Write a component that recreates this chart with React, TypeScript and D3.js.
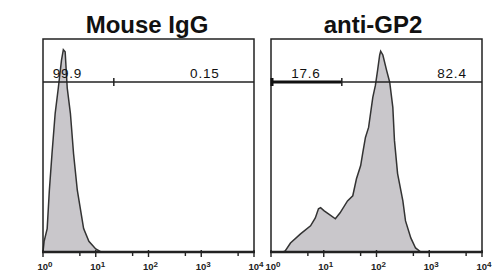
import React from "react";
import * as d3 from "d3";

const panelTitles = ["Mouse IgG", "anti-GP2"];

const mouseIgGIntensity = [1, 1.05, 1.2, 1.32, 1.48, 1.7, 1.95, 2.24, 2.43, 2.63, 2.88, 3.31, 3.8, 4.47, 5.89, 7.41, 10, 12.6];
const mouseIgGCount = [0, 5, 11, 29, 46, 65, 77, 90, 95, 94, 77, 65, 46, 29, 11, 5, 1.4, 0];

const antiGP2Intensity = [1.7, 1.86, 2.34, 3.63, 5.62, 6.92, 7.94, 8.71, 10.2, 12.3, 16.6, 20.4, 28.2, 35.5, 41.7, 50.1, 55, 61.7, 70.8, 85.1, 95.5, 105, 115, 120, 132, 155, 178, 204, 219, 251, 316, 355, 447, 550, 692];
const antiGP2Count = [0, 0.5, 4.2, 8.5, 12.3, 16, 20.3, 20.8, 19.3, 17.9, 15.6, 18.4, 24, 26.4, 34.4, 40.6, 46.7, 53.8, 58.5, 72.6, 78.3, 85.4, 92.5, 94.3, 92.5, 85.4, 79.7, 67.9, 52.4, 36.8, 24, 14.6, 6.6, 1.9, 0];

const gateBoundary = 22;
const mouseIgGGatePct = ["99.9", "0.15"];
const antiGP2GatePct = ["17.6", "82.4"];

const decadeTicks = [1, 10, 100, 1000, 10000];
const decadeExponents = ["0", "1", "2", "3", "4"];
const minorTicks = [5, 50, 500, 5000];

const panels = [
  { title: panelTitles[0], xs: mouseIgGIntensity, ys: mouseIgGCount, pct: mouseIgGGatePct, left: 43, titleX: 147, selected: -1, labelAt: [2.9, 1170] },
  { title: panelTitles[1], xs: antiGP2Intensity, ys: antiGP2Count, pct: antiGP2GatePct, left: 271, titleX: 373, selected: 0, labelAt: [4.6, 2700] },
];

const W = 211;
const TOP = 39;
const BASE = 252;
const GATE_Y = 82;
const FONT = "Liberation Sans, Arial, sans-serif";

function Panel({ p }: { p: any }) {
  const x = d3.scaleLog().domain([1, 10000]).range([p.left, p.left + W]);
  const y = d3.scaleLinear().domain([0, 100]).range([BASE, TOP]);
  const pts = p.xs.map((v: number, i: number) => [v, p.ys[i]] as [number, number]);
  const area = d3
    .area<[number, number]>()
    .x((d) => x(d[0]))
    .y0(BASE)
    .y1((d) => y(d[1]));
  const line = d3
    .line<[number, number]>()
    .x((d) => x(d[0]))
    .y((d) => y(d[1]));
  const gx = x(gateBoundary);
  const L = p.left;
  const R = p.left + W;
  const dark = "#222";
  return (
    <g>
      <text x={p.titleX} y={33} textAnchor="middle" fontFamily={FONT} fontWeight="bold" fontSize={24} fill="#111">
        {p.title}
      </text>
      <path d={area(pts) || ""} fill="#c9c7cb" />
      <path d={line(pts) || ""} fill="none" stroke="#333" strokeWidth={1.5} strokeLinejoin="miter" />
      {/* frame */}
      <path d={`M${L},${BASE} V${TOP} H${R} V${BASE}`} fill="none" stroke={dark} strokeWidth={1.5} />
      <line x1={L - 1} x2={R + 1} y1={BASE} y2={BASE} stroke={dark} strokeWidth={2.4} />
      {/* gate */}
      <line x1={L} x2={R} y1={GATE_Y} y2={GATE_Y} stroke={dark} strokeWidth={1.3} />
      {p.selected === 0 && (
        <g>
          <line x1={L} x2={gx} y1={GATE_Y} y2={GATE_Y} stroke="#111" strokeWidth={3} />
          <line x1={L + 1} x2={L + 1} y1={GATE_Y - 4} y2={GATE_Y + 4} stroke="#111" strokeWidth={3} />
        </g>
      )}
      <line x1={gx} x2={gx} y1={GATE_Y - 4} y2={GATE_Y + 4} stroke={dark} strokeWidth={1.5} />
      <text x={x(p.labelAt[0])} y={78} textAnchor="middle" fontFamily={FONT} fontSize={13.5} letterSpacing={0.8} fill="#111">
        {p.pct[0]}
      </text>
      <text x={x(p.labelAt[1])} y={78} textAnchor="middle" fontFamily={FONT} fontSize={13.5} letterSpacing={0.8} fill="#111">
        {p.pct[1]}
      </text>
      {/* ticks */}
      {decadeTicks.map((t) => (
        <line key={"d" + t} x1={x(t)} x2={x(t)} y1={BASE - 2} y2={BASE + 5} stroke={dark} strokeWidth={1.4} />
      ))}
      {minorTicks.map((t) => (
        <line key={"m" + t} x1={x(t)} x2={x(t)} y1={BASE} y2={BASE + 4} stroke={dark} strokeWidth={1.4} />
      ))}
      {decadeTicks.map((t, i) => (
        <text key={"l" + t} x={x(t) + 2} y={270} textAnchor="middle" fontFamily={FONT} fontWeight="bold" fontSize={9.5} fill="#222">
          10
          <tspan dy={-3} fontSize={8}>
            {decadeExponents[i]}
          </tspan>
        </text>
      ))}
    </g>
  );
}

export default function App() {
  return (
    <svg width={500} height={279} style={{ position: "absolute", left: 0, top: 0, background: "#fff" }}>
      <rect width={500} height={279} fill="#fff" />
      {panels.map((p, i) => (
        <Panel key={i} p={p} />
      ))}
    </svg>
  );
}
